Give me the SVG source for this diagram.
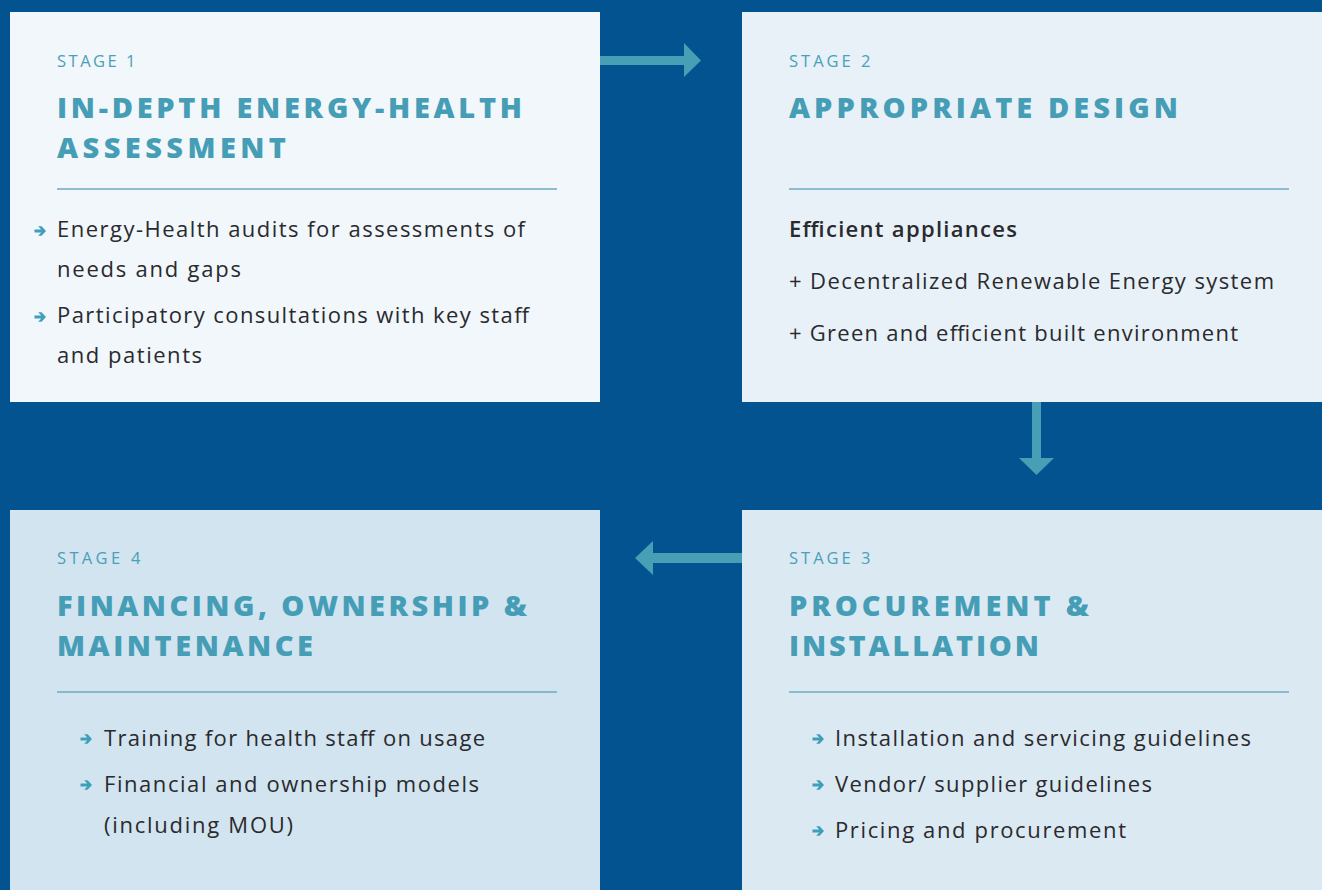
<svg xmlns="http://www.w3.org/2000/svg" width="1322" height="890" viewBox="0 0 1322 890">
<defs>
<style>
.stage{font-family:"Open Sans","Liberation Sans",sans-serif;font-size:16.5px;fill:#4aa0b8;letter-spacing:1.5px}
.title{font-family:"Open Sans","Liberation Sans",sans-serif;font-size:29px;font-weight:800;fill:#469db6;letter-spacing:3px}
.body{font-family:"Open Sans","Liberation Sans",sans-serif;font-size:22px;fill:#2a2a2e}
.med{font-weight:600}
.rule{stroke:#6eaac0;stroke-width:1.3}
.arrow{fill:#479fb5}
</style>
<path id="b" d="M-5.5,-1.6 H1.2 L-1.8,-4.8 H1.6 L6,0 L1.6,4.8 H-1.8 L1.2,1.6 H-5.5 Z" fill="#3f9fbb"/>
</defs>
<rect width="1322" height="890" fill="#02538f"/>

<g id="stage1">
<rect x="10" y="12" width="590" height="390" fill="#f1f7fa"/>
<text class="stage" x="57" y="67" textLength="80">STAGE 1</text>
<text class="title" x="57" y="118" textLength="468">IN-DEPTH ENERGY-HEALTH</text>
<text class="title" x="57" y="158" textLength="232">ASSESSMENT</text>
<line class="rule" x1="57" y1="189" x2="557" y2="189"/>
<use href="#b" x="40" y="231"/>
<text class="body" x="57" y="237" textLength="468">Energy-Health audits for assessments of</text>
<text class="body" x="57" y="277" textLength="184">needs and gaps</text>
<use href="#b" x="40" y="317"/>
<text class="body" x="57" y="323" textLength="472">Participatory consultations with key staff</text>
<text class="body" x="57" y="363" textLength="145">and patients</text>
</g>

<g id="stage2">
<rect x="742" y="12" width="580" height="390" fill="#e8f1f7"/>
<text class="stage" x="789" y="67" textLength="83">STAGE 2</text>
<text class="title" x="789" y="118" textLength="392">APPROPRIATE DESIGN</text>
<line class="rule" x1="789" y1="189" x2="1289" y2="189"/>
<text class="body med" x="789" y="237" textLength="228">Efficient appliances</text>
<text class="body" x="789" y="289" textLength="485">+ Decentralized Renewable Energy system</text>
<text class="body" x="789" y="341" textLength="449">+ Green and efficient built environment</text>
</g>

<g id="stage3">
<rect x="742" y="510" width="580" height="380" fill="#dbe9f3"/>
<text class="stage" x="789" y="564" textLength="83">STAGE 3</text>
<text class="title" x="789" y="616" textLength="303">PROCUREMENT &amp;</text>
<text class="title" x="789" y="656" textLength="253">INSTALLATION</text>
<line class="rule" x1="789" y1="692" x2="1289" y2="692"/>
<use href="#b" x="818" y="739"/>
<text class="body" x="835" y="746" textLength="416">Installation and servicing guidelines</text>
<use href="#b" x="818" y="785"/>
<text class="body" x="835" y="792" textLength="317">Vendor/ supplier guidelines</text>
<use href="#b" x="818" y="831"/>
<text class="body" x="835" y="838" textLength="291">Pricing and procurement</text>
</g>

<g id="stage4">
<rect x="10" y="510" width="590" height="380" fill="#d1e4ef"/>
<text class="stage" x="57" y="564" textLength="85">STAGE 4</text>
<text class="title" x="57" y="616" textLength="473">FINANCING, OWNERSHIP &amp;</text>
<text class="title" x="57" y="656" textLength="259">MAINTENANCE</text>
<line class="rule" x1="57" y1="692" x2="557" y2="692"/>
<use href="#b" x="86" y="739"/>
<text class="body" x="104" y="746" textLength="381">Training for health staff on usage</text>
<use href="#b" x="86" y="785"/>
<text class="body" x="104" y="792" textLength="375">Financial and ownership models</text>
<text class="body" x="104" y="833" textLength="189">(including MOU)</text>
</g>

<g id="connectors">
<polygon class="arrow" points="600,56 684,56 684,43 701,60.5 684,77 684,65 600,65"/>
<polygon class="arrow" points="1032,402 1041,402 1041,458 1054,458 1036.5,475 1019,458 1032,458"/>
<polygon class="arrow" points="742,553 653,553 653,541 635,558 653,575 653,563 742,563"/>
</g>
</svg>
